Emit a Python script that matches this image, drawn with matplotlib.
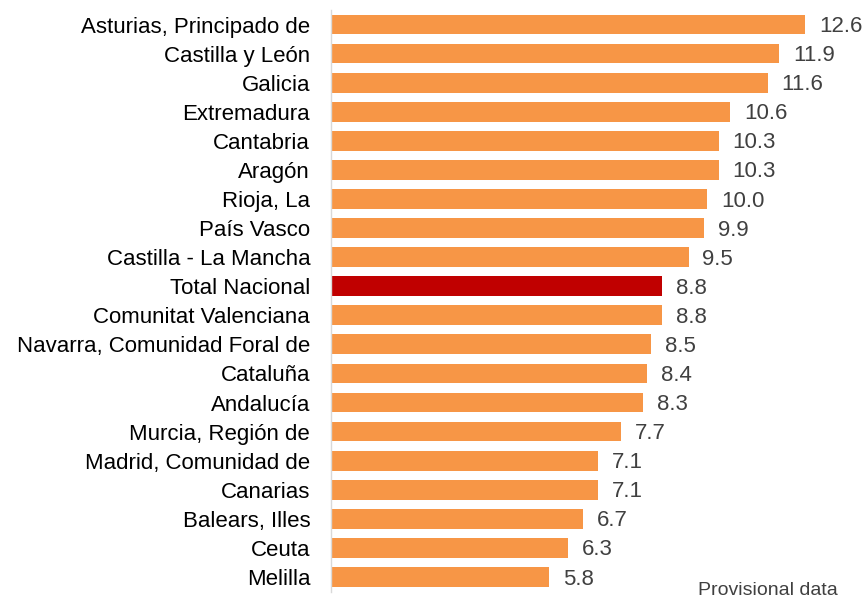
import matplotlib
matplotlib.use("Agg")
import matplotlib.pyplot as plt

categories = ["Asturias, Principado de", "Castilla y León", "Galicia", "Extremadura",
              "Cantabria", "Aragón", "Rioja, La", "País Vasco", "Castilla - La Mancha",
              "Total Nacional", "Comunitat Valenciana", "Navarra, Comunidad Foral de",
              "Cataluña", "Andalucía", "Murcia, Región de", "Madrid, Comunidad de",
              "Canarias", "Balears, Illes", "Ceuta", "Melilla"]
values = [12.6, 11.9, 11.6, 10.6, 10.3, 10.3, 10.0, 9.9, 9.5, 8.8, 8.8, 8.5, 8.4,
          8.3, 7.7, 7.1, 7.1, 6.7, 6.3, 5.8]
highlight = "Total Nacional"
note = "Provisional data"

plt.rcParams['font.family'] = ['Liberation Sans', 'DejaVu Sans']

W, H = 868, 598
fig = plt.figure(figsize=(W/100, H/100), dpi=100)
left, right = 331, 858
top, bottom = 10, 591.5
ax = fig.add_axes([left/W, (H-bottom)/H, (right-left)/W, (bottom-top)/H])

n = len(categories)
ypos = list(range(n))
colors = ["#C00000" if c == highlight else "#F79646" for c in categories]
ax.barh(ypos, values, height=0.68, color=colors)
ax.set_xlim(0, 14)
ax.set_ylim(n - 0.5, -0.5)
ax.set_yticks(ypos)
ax.set_yticklabels(categories, fontsize=16, color="#000000")
ax.tick_params(axis='y', length=0, pad=15)
ax.set_xticks([])
for s in ["top", "right", "bottom"]:
    ax.spines[s].set_visible(False)
ax.spines["left"].set_color("#D9D9D9")
ax.spines["left"].set_linewidth(1.0)

for y, v in zip(ypos, values):
    ax.annotate(f"{v:.1f}", (v, y), xytext=(10, -1.5), textcoords="offset points",
                va="center", ha="left", fontsize=16, color="#404040")

fig.text(698/W, (H-595)/H, note, fontsize=14, color="#404040", ha="left", va="baseline")

fig.savefig("out.png", dpi=100)
